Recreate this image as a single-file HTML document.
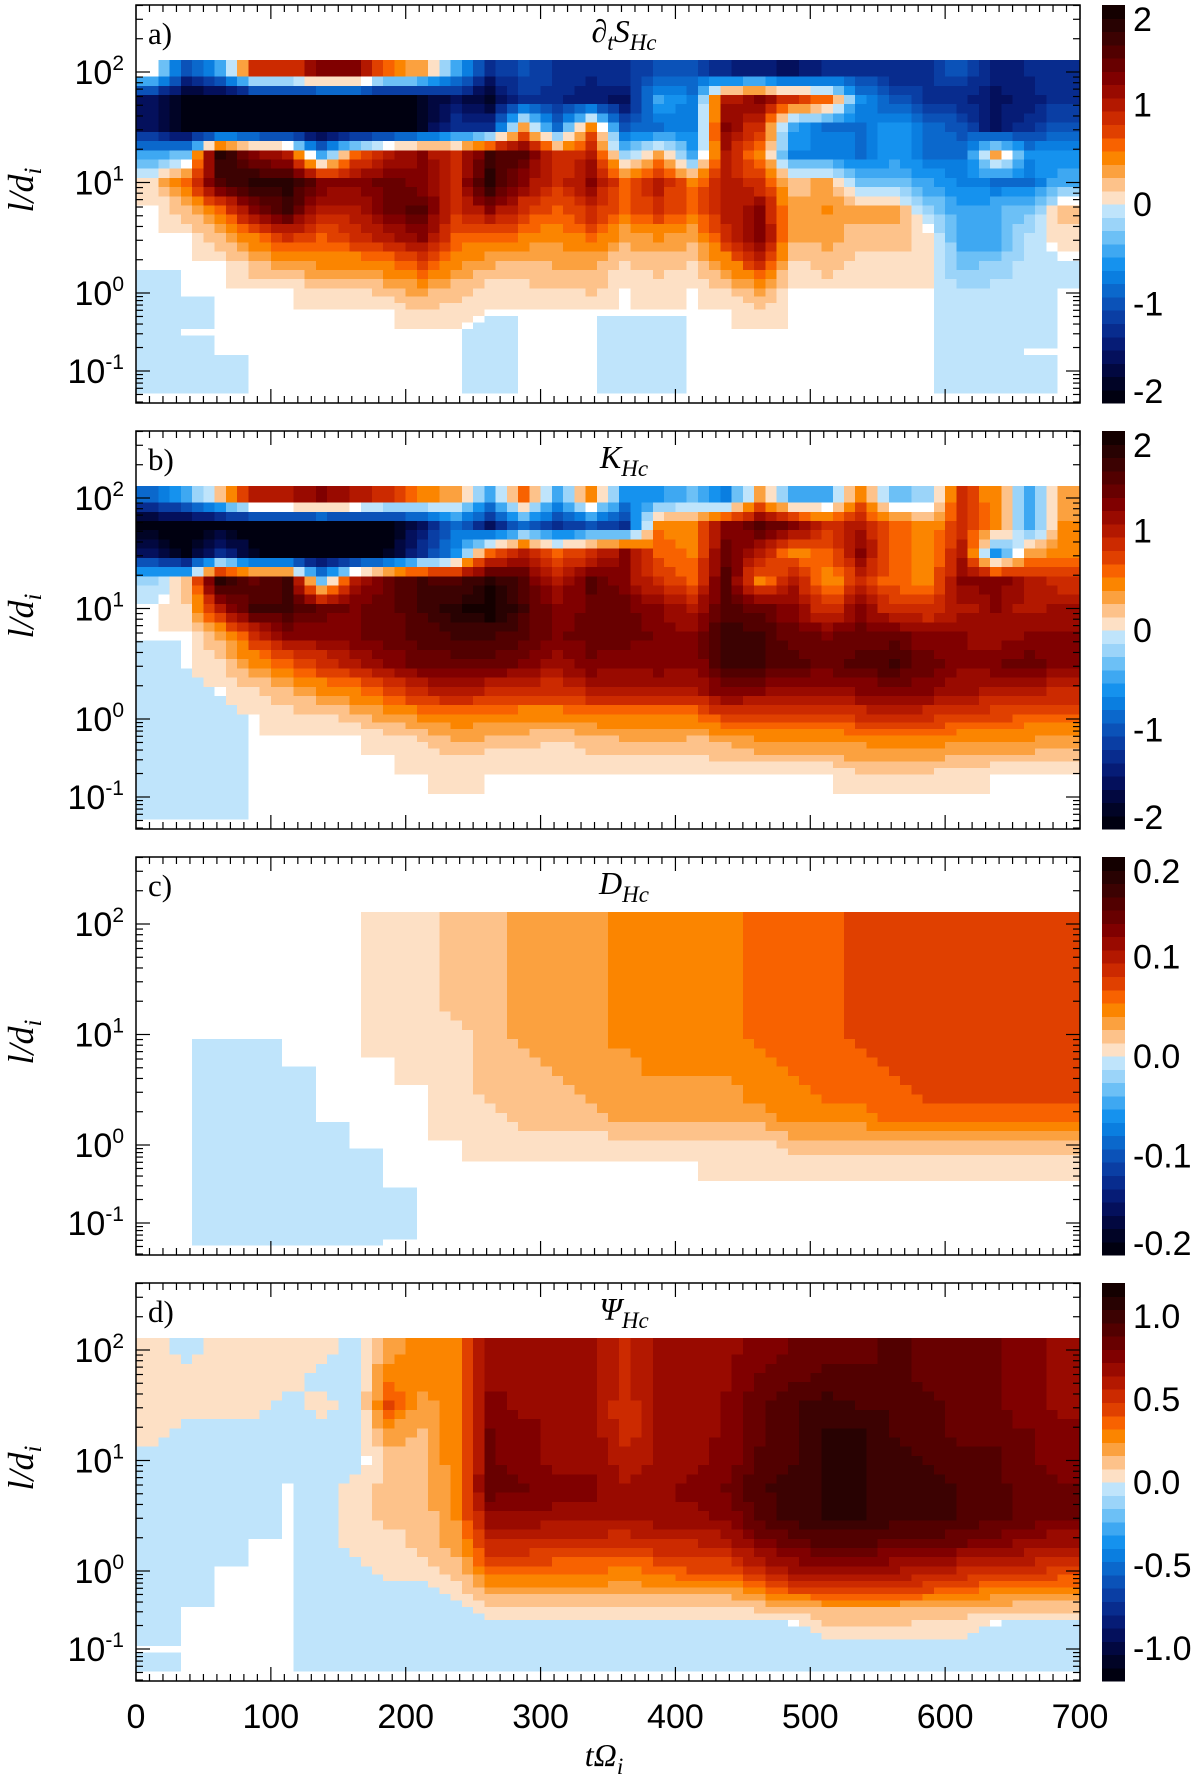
<!DOCTYPE html>
<html><head><meta charset="utf-8"><style>
html,body{margin:0;padding:0;background:#fff;}
svg{display:block;}
</style></head><body>
<svg id="fig" xmlns="http://www.w3.org/2000/svg" width="1200" height="1774" viewBox="0 0 1200 1774"></svg>
<script>
// ---- data ----
const timeCenters = [12.5,37.5,62.5,87.5,112.5,137.5,162.5,187.5,212.5,237.5,262.5,287.5,312.5,337.5,362.5,387.5,412.5,437.5,462.5,487.5,512.5,537.5,562.5,587.5,612.5,637.5,662.5,687.5];
const logScaleCenters = [2,1.75,1.5,1.25,1,0.75,0.5,0.25,0,-0.25,-0.5,-0.75,-1,-1.25];
const xTickValues = [0,100,200,300,400,500,600,700];
const yTickExps = [2,1,0,-1];

const panelA = [
[0,-1,-.5,.8,.8,1.2,1.2,.6,.3,-.5,-1.3,-1,-1.2,-1.3,-1.2,-1,-1,-1.3,-1.4,-1.5,-1.3,-1.2,-1.3,-1.2,-1,-1.4,-1.3,-1.2],
[-1.5,-2,-2,-2,-2,-2,-2,-2,-1.8,-1.5,-1.8,-1.2,-1.3,-1.4,-1.5,-.5,-.7,1,1.2,.8,.6,-.6,-1,-1.2,-1.3,-1.5,-1.4,-1.2],
[-1.5,-2,-2,-2,-2,-2,-2,-2,-1.8,-1.2,-1.2,.3,-.8,.5,-1,-.8,-.7,1.2,.8,-.5,-.8,-.8,-.6,-.8,-1,-1.5,-1.2,-1],
[-.5,-.3,1.8,1.2,1,-.5,.6,1,1.2,.8,1.6,1.5,.8,1,-.2,.3,-.5,1,.5,-.7,-.7,-.8,-.6,-.8,-.8,.3,-.6,-.6],
[.1,.6,1.5,1.8,1.8,1.3,1.2,1.4,1.2,.9,1.8,1.2,.8,1.2,.6,1,.5,1,.8,.2,.3,-.3,-.3,-.5,-.7,-.8,-.8,-.4],
[0,.2,.6,1.2,1.6,1,1,1.4,1.5,.8,1.2,.8,.6,.9,.6,.8,.6,1,1.2,.3,.4,.3,.3,-.2,-.5,-.4,-.3,.2],
[0,0,.2,.5,.8,.6,.8,1,1.2,.6,.6,.5,.4,.6,.3,.4,.3,.8,1.3,.3,.3,.2,.2,.1,-.5,-.5,-.1,.1],
[0,0,0,.2,.3,.4,.4,.5,.7,.4,.3,.2,.3,.3,.1,.2,.1,.4,.8,.1,.2,.1,.1,.05,-.3,-.2,-.1,-.05],
[-.05,0,0,0,0,.1,.1,.2,.3,.2,.05,.1,.1,.15,0,.05,0,.1,.3,0,0,0,0,0,-.1,-.1,-.05,0],
[-.05,-.05,0,0,0,0,0,0,.1,.05,0,0,0,0,0,0,0,0,.1,0,0,0,0,0,-.05,-.05,-.05,0],
[-.05,0,0,0,0,0,0,0,0,0,-.05,0,0,0,-.05,-.05,0,0,0,0,0,0,0,0,-.05,-.05,-.05,0],
[-.05,-.05,0,0,0,0,0,0,0,0,-.05,0,0,0,-.05,-.05,0,0,0,0,0,0,0,0,-.05,-.05,0,0],
[-.05,-.05,-.05,0,0,0,0,0,0,0,-.05,0,0,0,-.05,-.05,0,0,0,0,0,0,0,0,-.05,-.05,-.05,0],
[-.05,-.05,-.05,0,0,0,0,0,0,0,-.05,0,0,0,-.05,-.05,0,0,0,0,0,0,0,0,-.05,-.05,-.05,0]
];
const panelB = [
[-.8,-.5,.2,1,1,1.2,1,.8,.5,.3,-.5,.6,-.5,.5,-.6,-.6,-.3,-.7,.3,-.5,-.4,.5,-.3,-.2,.8,.4,-.4,.3],
[-2,-2,-2,-2,-2,-2,-2,-2,-1.5,-.8,-1.5,-.8,-1.3,-1,-1.2,.5,.5,1.2,1.5,1.3,.8,1,.6,.4,.8,.5,-.5,.4],
[-1.5,-2,-1.2,-1.8,-2,-2,-2,-1.8,-1.2,-.6,.6,1,.6,.8,1.2,.6,.5,1.4,1,.5,.6,1.2,.6,.4,1,-.6,.3,.5],
[-.2,.2,1.8,1.4,1.6,-.3,1,1.4,1.6,1.5,1.8,1.5,1,1.5,1.2,.8,.6,1.5,.5,1,.4,.8,.6,.5,1.2,1.3,1,.8],
[0,.1,1,1.6,1.6,1.4,1.3,1.4,1.6,1.8,2,1.6,1.2,1.4,1.4,1.2,1,1.5,1.4,1.2,.8,1.2,.8,.8,1,1.2,1,1.1],
[0,0,.3,.8,1.2,1.2,1.3,1.4,1.5,1.6,1.6,1.5,1.3,1.4,1.4,1.3,1.2,1.7,1.6,1.4,1.3,1.4,1.4,1.2,1.2,1.1,1.2,1.2],
[-.05,0,.1,.4,.6,.8,1,1.2,1.4,1.4,1.4,1.3,1.1,1.3,1.2,1.3,1.2,1.6,1.6,1.5,1.4,1.5,1.6,1.4,1.2,1.3,1.4,1.2],
[-.05,-.05,0,.1,.25,.4,.5,.7,.9,1,.9,.8,.8,1,1,1,1,1.3,1.2,1.1,1.1,1.2,1.3,1.2,1.1,1,1,.9],
[-.05,-.05,-.05,0,.05,.1,.2,.3,.4,.5,.4,.4,.4,.5,.5,.5,.5,.7,.7,.7,.7,.8,.8,.8,.7,.7,.6,.6],
[-.05,-.05,-.05,0,0,0,0,.05,.15,.3,.25,.2,.15,.2,.3,.3,.25,.3,.4,.4,.4,.45,.5,.5,.4,.4,.4,.35],
[-.05,-.05,-.05,0,0,0,0,0,.05,.1,.05,.05,.05,.1,.1,.1,.1,.15,.2,.2,.2,.3,.3,.3,.25,.2,.2,.2],
[-.05,-.05,-.05,0,0,0,0,0,0,.05,0,0,0,0,0,0,0,0,0,0,0,.05,.05,.05,.05,0,0,0],
[-.05,-.05,-.05,0,0,0,0,0,0,0,0,0,0,0,0,0,0,0,0,0,0,0,0,0,0,0,0,0],
[-.05,-.05,-.05,0,0,0,0,0,0,0,0,0,0,0,0,0,0,0,0,0,0,0,0,0,0,0,0,0]
];
const panelC = [
[0,0,0,0,0,0,0,.007,.007,.02,.02,.035,.035,.035,.047,.047,.047,.047,.06,.06,.06,.073,.073,.073,.073,.073,.073,.073],
[0,0,0,0,0,0,0,.007,.007,.02,.02,.035,.035,.035,.047,.047,.047,.047,.06,.06,.06,.073,.073,.073,.073,.073,.073,.073],
[0,0,0,0,0,0,0,.007,.007,.02,.02,.035,.035,.035,.047,.047,.047,.047,.06,.06,.06,.073,.073,.073,.073,.073,.073,.073],
[0,0,0,0,0,0,0,.007,.007,.02,.02,.035,.035,.035,.047,.047,.047,.047,.06,.06,.06,.073,.073,.073,.073,.073,.073,.073],
[0,0,0,0,0,0,0,.007,.007,.007,.02,.035,.035,.035,.047,.047,.047,.047,.06,.06,.06,.073,.073,.073,.073,.073,.073,.073],
[0,0,-.005,-.005,0,0,0,0,.007,.007,.02,.02,.035,.035,.035,.047,.047,.047,.047,.06,.06,.06,.073,.073,.073,.073,.073,.073],
[0,0,-.005,-.005,-.005,0,0,0,0,.007,.02,.02,.02,.035,.035,.035,.035,.035,.047,.047,.06,.06,.06,.073,.073,.073,.073,.073],
[0,0,-.005,-.005,-.005,0,0,0,0,.007,.007,.02,.02,.02,.035,.035,.035,.035,.035,.047,.047,.047,.06,.06,.06,.06,.06,.06],
[0,0,-.005,-.005,-.005,-.005,0,0,0,0,.007,.007,.007,.007,.007,.007,.007,.007,.007,.02,.02,.02,.02,.02,.02,.02,.02,.02],
[0,0,-.005,-.005,-.005,-.005,-.005,0,0,0,0,0,0,0,0,0,0,.007,.007,.007,.007,.007,.007,.007,.007,.007,.007,.007],
[0,0,-.005,-.005,-.005,-.005,-.005,0,0,0,0,0,0,0,0,0,0,0,0,0,0,0,0,0,0,0,0,0],
[0,0,-.005,-.005,-.005,-.005,-.005,-.005,0,0,0,0,0,0,0,0,0,0,0,0,0,0,0,0,0,0,0,0],
[0,0,-.005,-.005,-.005,-.005,-.005,-.005,0,0,0,0,0,0,0,0,0,0,0,0,0,0,0,0,0,0,0,0],
[0,0,-.005,-.005,-.005,-.005,-.005,0,0,0,0,0,0,0,0,0,0,0,0,0,0,0,0,0,0,0,0,0]
];
const panelD = [
[.05,-.05,.05,.05,.05,.05,-.05,.2,.3,.3,.7,.7,.65,.65,.55,.65,.65,.7,.75,.8,.85,.85,.9,.85,.85,.8,.75,.7],
[.05,.05,.05,.05,.05,-.05,-.05,.3,.3,.3,.7,.7,.65,.65,.55,.65,.65,.7,.8,.85,.9,.9,.9,.85,.85,.8,.75,.7],
[.05,.05,.05,.05,-.05,.05,-.05,.4,.2,.3,.75,.7,.7,.65,.5,.65,.65,.75,.85,.95,1,.95,.95,.9,.85,.8,.75,.7],
[.05,-.05,-.05,-.05,-.05,-.05,-.05,.2,.15,.3,.8,.75,.7,.7,.5,.65,.65,.75,.85,.95,1.05,1.05,.95,.9,.85,.85,.8,.75],
[-.05,-.05,-.05,-.05,-.05,-.05,-.05,.1,.15,.3,.8,.75,.7,.7,.6,.65,.7,.75,.9,.95,1.05,1.05,1,.95,.9,.9,.8,.75],
[-.05,-.05,-.05,-.05,0,-.05,.05,.1,.15,.25,.85,.8,.75,.75,.65,.7,.75,.8,.95,1,1.05,1.05,1,1,.95,.9,.85,.8],
[-.05,-.05,-.05,-.05,0,-.05,.05,.1,.1,.25,.7,.7,.7,.7,.65,.7,.7,.75,.9,1,1.05,1.05,1,1,.95,.9,.85,.8],
[-.05,-.05,-.05,0,0,-.05,.05,.05,.1,.2,.55,.55,.5,.5,.5,.55,.55,.6,.75,.85,.9,.9,.85,.85,.8,.75,.7,.65],
[-.05,-.05,0,0,0,-.05,-.05,.05,.05,.1,.35,.35,.35,.35,.3,.35,.4,.4,.55,.65,.7,.7,.65,.6,.55,.55,.5,.45],
[-.05,-.05,0,0,0,-.05,-.05,-.05,-.05,.05,.2,.2,.2,.2,.2,.2,.2,.2,.3,.4,.45,.45,.45,.4,.35,.3,.3,.3],
[-.05,0,0,0,0,-.05,-.05,-.05,-.05,-.05,.05,.05,.05,.05,.05,.05,.05,.05,.08,.1,.15,.15,.15,.12,.1,.1,.08,.08],
[-.05,0,0,0,0,-.05,-.05,-.05,-.05,-.05,-.05,-.05,-.05,-.05,-.05,-.05,-.05,-.05,-.05,-.05,.05,.05,.05,.05,.05,-.05,-.05,-.05],
[0,0,0,0,0,-.05,-.05,-.05,-.05,-.05,-.05,-.05,-.05,-.05,-.05,-.05,-.05,-.05,-.05,-.05,-.05,-.05,-.05,-.05,-.05,-.05,-.05,-.05],
[-.05,0,0,0,0,-.05,-.05,-.05,-.05,-.05,-.05,-.05,-.05,-.05,-.05,-.05,-.05,-.05,-.05,-.05,-.05,-.05,-.05,-.05,-.05,-.05,-.05,-.05]
];
const cbarLabelsA = ["2","1","0","-1","-2"];
const cbarValuesA = [2,1,0,-1,-2];
const cbarLabelsC = ["0.2","0.1","0.0","-0.1","-0.2"];
const cbarValuesC = [0.2,0.1,0,-0.1,-0.2];
const cbarLabelsD = ["1.0","0.5","0.0","-0.5","-1.0"];
const cbarValuesD = [1,0.5,0,-0.5,-1];

// ---- styles ----
const POS = ["#fde0c5","#fdc28a","#fba13f","#fb8500","#f86200","#e04000","#cc2a00","#b31800","#990a00","#800000","#680000","#520000","#3c0202","#280202","#140000"];
const NEG = ["#bfe4fb","#9bd4f9","#6cc0f6","#3ea8f2","#1592ee","#0a7ee0","#0b68cc","#0b52b8","#0a3ea4","#082c8e","#061c76","#04105c","#020840","#010426","#000010"];
const NL = 15;
function colorOf(v, vmax){
  if (Math.abs(v) < 1e-6) return "#ffffff";
  const idx = Math.min(NL-1, Math.floor(Math.abs(v)/(vmax/NL)));
  return v > 0 ? POS[idx] : NEG[idx];
}
const NS = "http://www.w3.org/2000/svg";
const svg = document.getElementById('fig');
function el(tag, attrs, parent){
  const e = document.createElementNS(NS, tag);
  for (const k in attrs) e.setAttribute(k, attrs[k]);
  (parent||svg).appendChild(e);
  return e;
}
const L = 136, R = 1080, H = 398, DTOP = 55, DBOT = 388;
const CBX = 1102, CBW = 23;
function xS(t){ return L + (t/700)*(R-L); }
function yRel(lg){ return lg >= 0 ? 288 - 110.5*lg : 288 - 78*lg; }
function sampleGrid(data, rf, cf){
  const nr = data.length, nc = data[0].length;
  rf = Math.max(0, Math.min(nr-1, rf)); cf = Math.max(0, Math.min(nc-1, cf));
  const r0 = Math.floor(rf), c0 = Math.floor(cf);
  const r1 = Math.min(nr-1, r0+1), c1 = Math.min(nc-1, c0+1);
  const fr = rf - r0, fc = cf - c0;
  const a = data[r0][c0]*(1-fc) + data[r0][c1]*fc;
  const b = data[r1][c0]*(1-fc) + data[r1][c1]*fc;
  return a*(1-fr) + b*fr;
}

const panels = [
  {top:5, data:panelA, vmax:2, tag:"a)", name:"panel-a", cl:cbarLabelsA, cv:cbarValuesA, title:"dS"},
  {top:431, data:panelB, vmax:2, tag:"b)", name:"panel-b", cl:cbarLabelsA, cv:cbarValuesA, title:"K"},
  {top:857, data:panelC, vmax:0.2, tag:"c)", name:"panel-c", cl:cbarLabelsC, cv:cbarValuesC, title:"D"},
  {top:1283, data:panelD, vmax:1.2, tag:"d)", name:"panel-d", cl:cbarLabelsD, cv:cbarValuesD, title:"Psi"}
];
const SUB = 3;
panels.forEach((p, pi) => {
  const g = el('g', {});
  
  
  const T = p.top;
  const hm = el('g', {'shape-rendering':'crispEdges'}, g);
  
  
  const dt = timeCenters[1] - timeCenters[0];
  const dl = logScaleCenters[0] - logScaleCenters[1];
  p.data.forEach((row, ri) => {
    row.forEach((v, ci) => {
      for (let sy = 0; sy < SUB; sy++){
        const lgTop = logScaleCenters[ri] + dl/2 - sy*dl/SUB;
        const lgBot = lgTop - dl/SUB;
        const y0 = Math.max(DTOP, yRel(lgTop));
        const y1 = Math.min(DBOT, yRel(lgBot));
        if (y1 <= y0) continue;
        const rf = ri - 0.5 + (sy+0.5)/SUB;
        for (let sx = 0; sx < SUB; sx++){
          const cf = ci - 0.5 + (sx+0.5)/SUB;
          const val = sampleGrid(p.data, rf, cf);
          const t0 = timeCenters[ci] - dt/2 + sx*dt/SUB;
          const x0 = xS(t0), x1 = xS(t0 + dt/SUB);
          const r = el('rect', {x:x0.toFixed(2), y:(T+y0).toFixed(2), width:(x1-x0+0.6).toFixed(2), height:(y1-y0+0.6).toFixed(2), fill:colorOf(val, p.vmax)}, hm);
          
          
        }
      }
    });
  });
  const fr = el('rect', {x:L, y:T, width:R-L, height:H, fill:'none', stroke:'#000', 'stroke-width':1.5}, g);
  
  
  for (let t = 0; t <= 700; t += 10){
    const x = xS(t), len = (t % 100 === 0) ? 14 : 7;
    el('line', {x1:x, x2:x, y1:T+H, y2:T+H-len, stroke:'#000', 'stroke-width':1.2}, g);
    el('line', {x1:x, x2:x, y1:T, y2:T+len, stroke:'#000', 'stroke-width':1.2}, g);
  }
  for (let d = -2; d <= 2; d++){
    for (let m = 1; m <= 9; m++){
      const lg = d + Math.log10(m);
      const y = T + yRel(lg);
      if (y < T || y > T+H) continue;
      const len = m === 1 ? 14 : 7;
      el('line', {x1:L, x2:L+len, y1:y, y2:y, stroke:'#000', 'stroke-width':1.2}, g);
      el('line', {x1:R, x2:R-len, y1:y, y2:y, stroke:'#000', 'stroke-width':1.2}, g);
    }
  }
  yTickExps.forEach(e => {
    const y = T + yRel(e);
    const tx = el('text', {x:124, y:y+12, 'text-anchor':'end', 'font-family':'Liberation Sans, sans-serif', 'font-size':34, fill:'#000'}, g);
    
    
    const a = el('tspan', {}, tx); a.textContent = '10';
    const b = el('tspan', {dy:-14, 'font-size':21}, tx); b.textContent = String(e);
  });
  const yt = el('text', {x:0, y:0, transform:`translate(33,${T+185}) rotate(-90)`, 'text-anchor':'middle', 'font-family':'Liberation Serif, serif', 'font-style':'italic', 'font-size':36, fill:'#000'}, g);
  
  
  const y1 = el('tspan', {}, yt); y1.textContent = 'l/d';
  const y2 = el('tspan', {dy:8, 'font-size':25}, yt); y2.textContent = 'i';
  const tg = el('text', {x:148, y:T+39, 'font-family':'Liberation Serif, serif', 'font-size':31, fill:'#000'}, g);
  tg.textContent = p.tag;
  
  
  const ti = el('text', {x:624, y:T+37, 'text-anchor':'middle', 'font-family':'Liberation Serif, serif', 'font-style':'italic', 'font-size':32, fill:'#000'}, g);
  
  
  function sp(txt, attrs){ const s = el('tspan', attrs||{}, ti); s.textContent = txt; return s; }
  if (p.title === 'dS'){ sp('∂'); sp('t',{dy:8,'font-size':23}); sp('S',{dy:-8}); sp('Hc',{dy:8,'font-size':23}); }
  else if (p.title === 'K'){ sp('K'); sp('Hc',{dy:8,'font-size':23}); }
  else if (p.title === 'D'){ sp('D'); sp('Hc',{dy:8,'font-size':23}); }
  else { sp('Ψ'); sp('Hc',{dy:8,'font-size':23}); }
  const cb = el('g', {'shape-rendering':'crispEdges'}, g);
  
  
  const bandH = H / (2*NL);
  for (let i = 0; i < 2*NL; i++){
    const col = i < NL ? NEG[NL-1-i] : POS[i-NL];
    el('rect', {x:CBX, y:(T+H-(i+1)*bandH).toFixed(2), width:CBW, height:(bandH+0.6).toFixed(2), fill:col}, cb);
  }
  p.cv.forEach((v, i) => {
    let y = T + H/2 - (v/p.vmax)*(H/2);
    y = Math.max(T+14, Math.min(T+H-12, y));
    const lt = el('text', {x:1133, y:y+12, 'font-family':'Liberation Sans, sans-serif', 'font-size':34, fill:'#000'}, g);
    lt.textContent = p.cl[i];
    
    
  });
});
xTickValues.forEach(t => {
  const tx = el('text', {x:xS(t), y:1728, 'text-anchor':'middle', 'font-family':'Liberation Sans, sans-serif', 'font-size':34, fill:'#000'});
  tx.textContent = String(t);
  
  
});
const xt = el('text', {x:604, y:1766, 'text-anchor':'middle', 'font-family':'Liberation Serif, serif', 'font-style':'italic', 'font-size':32, fill:'#000'});


const xa = el('tspan', {}, xt); xa.textContent = 'tΩ';
const xb = el('tspan', {dy:8, 'font-size':23}, xt); xb.textContent = 'i';
</script>
</body></html>
